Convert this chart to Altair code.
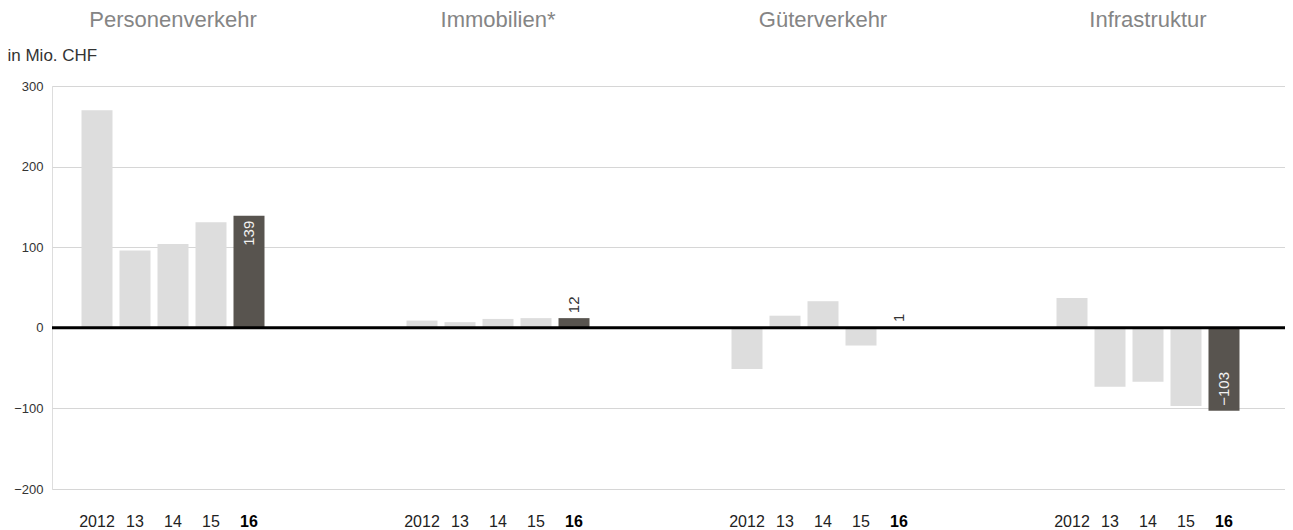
import altair as alt
import pandas as pd

groups = ["Personenverkehr", "Immobilien*", "Güterverkehr", "Infrastruktur"]
years = ["2012", "2013", "2014", "2015", "2016"]
year_labels = ["2012", "13", "14", "15", "16"]
personenverkehr = [270, 96, 104, 131, 139]
immobilien = [9, 7, 11, 12, 12]
gueterverkehr = [-51, 15, 33, -22, 1]
infrastruktur = [37, -73, -67, -97, -103]
y_ticks = [-200, -100, 0, 100, 200, 300]

rows = []
for g, vals in zip(groups, [personenverkehr, immobilien, gueterverkehr, infrastruktur]):
    for yr, lab, v in zip(years, year_labels, vals):
        rows.append({"group": g, "year": yr, "label": lab, "value": v,
                     "vtext": str(v).replace("-", "\u2212")})
df = pd.DataFrame(rows)

FONT = "Liberation Sans"
H = 403

x_enc = alt.X("group:N", sort=groups, axis=None,
              scale=alt.Scale(domain=groups, range=[0, 1300], paddingInner=0, paddingOuter=0))
xo_enc = alt.XOffset("year:N", sort=years,
                     scale=alt.Scale(domain=years, range=[29.5, 212.5],
                                     paddingInner=0.1842, paddingOuter=0))
y_enc = alt.Y("value:Q",
              scale=alt.Scale(domain=[-200, 300], nice=False),
              axis=alt.Axis(values=y_ticks, grid=True, gridColor="#d6d6d6", gridWidth=1,
                            domain=False, ticks=False, labelPadding=9, labelFontSize=13,
                            labelColor="#333333", labelFont=FONT,
                            title="in Mio. CHF", titleAngle=0, titleAlign="left",
                            titleBaseline="alphabetic", titleX=-45, titleY=-26,
                            titleFontSize=17, titleFontWeight="normal", titleColor="#333333",
                            titleFont=FONT))

base = alt.Chart(df).encode(x=x_enc, xOffset=xo_enc)

bars = base.mark_bar().encode(
    y=y_enc,
    color=alt.condition("datum.year == '2016'", alt.value("#58544f"), alt.value("#dddddd")),
)

zero = alt.Chart(pd.DataFrame({"z": [0]})).mark_rule(color="#000000", strokeWidth=3).encode(
    y=alt.datum(0)
)

last = base.transform_filter("datum.year == '2016'")
lab_in_pos = last.transform_filter("datum.value >= 50").mark_text(
    angle=270, align="right", baseline="middle", dx=-5, fontSize=15, font=FONT, color="#f2f2f2"
).encode(y=y_enc, text="vtext:N")
lab_in_neg = last.transform_filter("datum.value <= -50").mark_text(
    angle=270, align="left", baseline="middle", dx=5, fontSize=15, font=FONT, color="#f2f2f2"
).encode(y=y_enc, text="vtext:N")
lab_out = last.transform_filter("datum.value > -50 && datum.value < 50").mark_text(
    angle=270, align="left", baseline="middle", dx=5, fontSize=15, font=FONT, color="#333333"
).encode(y=y_enc, text="vtext:N")

years_norm = base.transform_filter("datum.year != '2016'").mark_text(
    baseline="alphabetic", fontSize=16, font=FONT, color="#222222"
).encode(text="label:N", y=alt.value(H + 38))
years_bold = last.mark_text(
    baseline="alphabetic", fontSize=16, font=FONT, fontWeight="bold", color="#000000"
).encode(text="label:N", y=alt.value(H + 38))

titles = base.transform_filter("datum.year == '2014'").mark_text(
    baseline="alphabetic", fontSize=22, font=FONT, color="#858585"
).encode(text="group:N", y=alt.value(-59))

chart = alt.layer(
    bars, zero, lab_in_pos, lab_in_neg, lab_out, years_norm, years_bold, titles
).properties(
    width=1233, height=H,
    autosize=alt.AutoSizeParams(type="none"),
    padding={"left": 44, "top": 78, "right": 0, "bottom": 41},
).configure_view(stroke=None).configure(font=FONT)

chart.save("out.html", embed_options={"renderer": "svg", "actions": False})
